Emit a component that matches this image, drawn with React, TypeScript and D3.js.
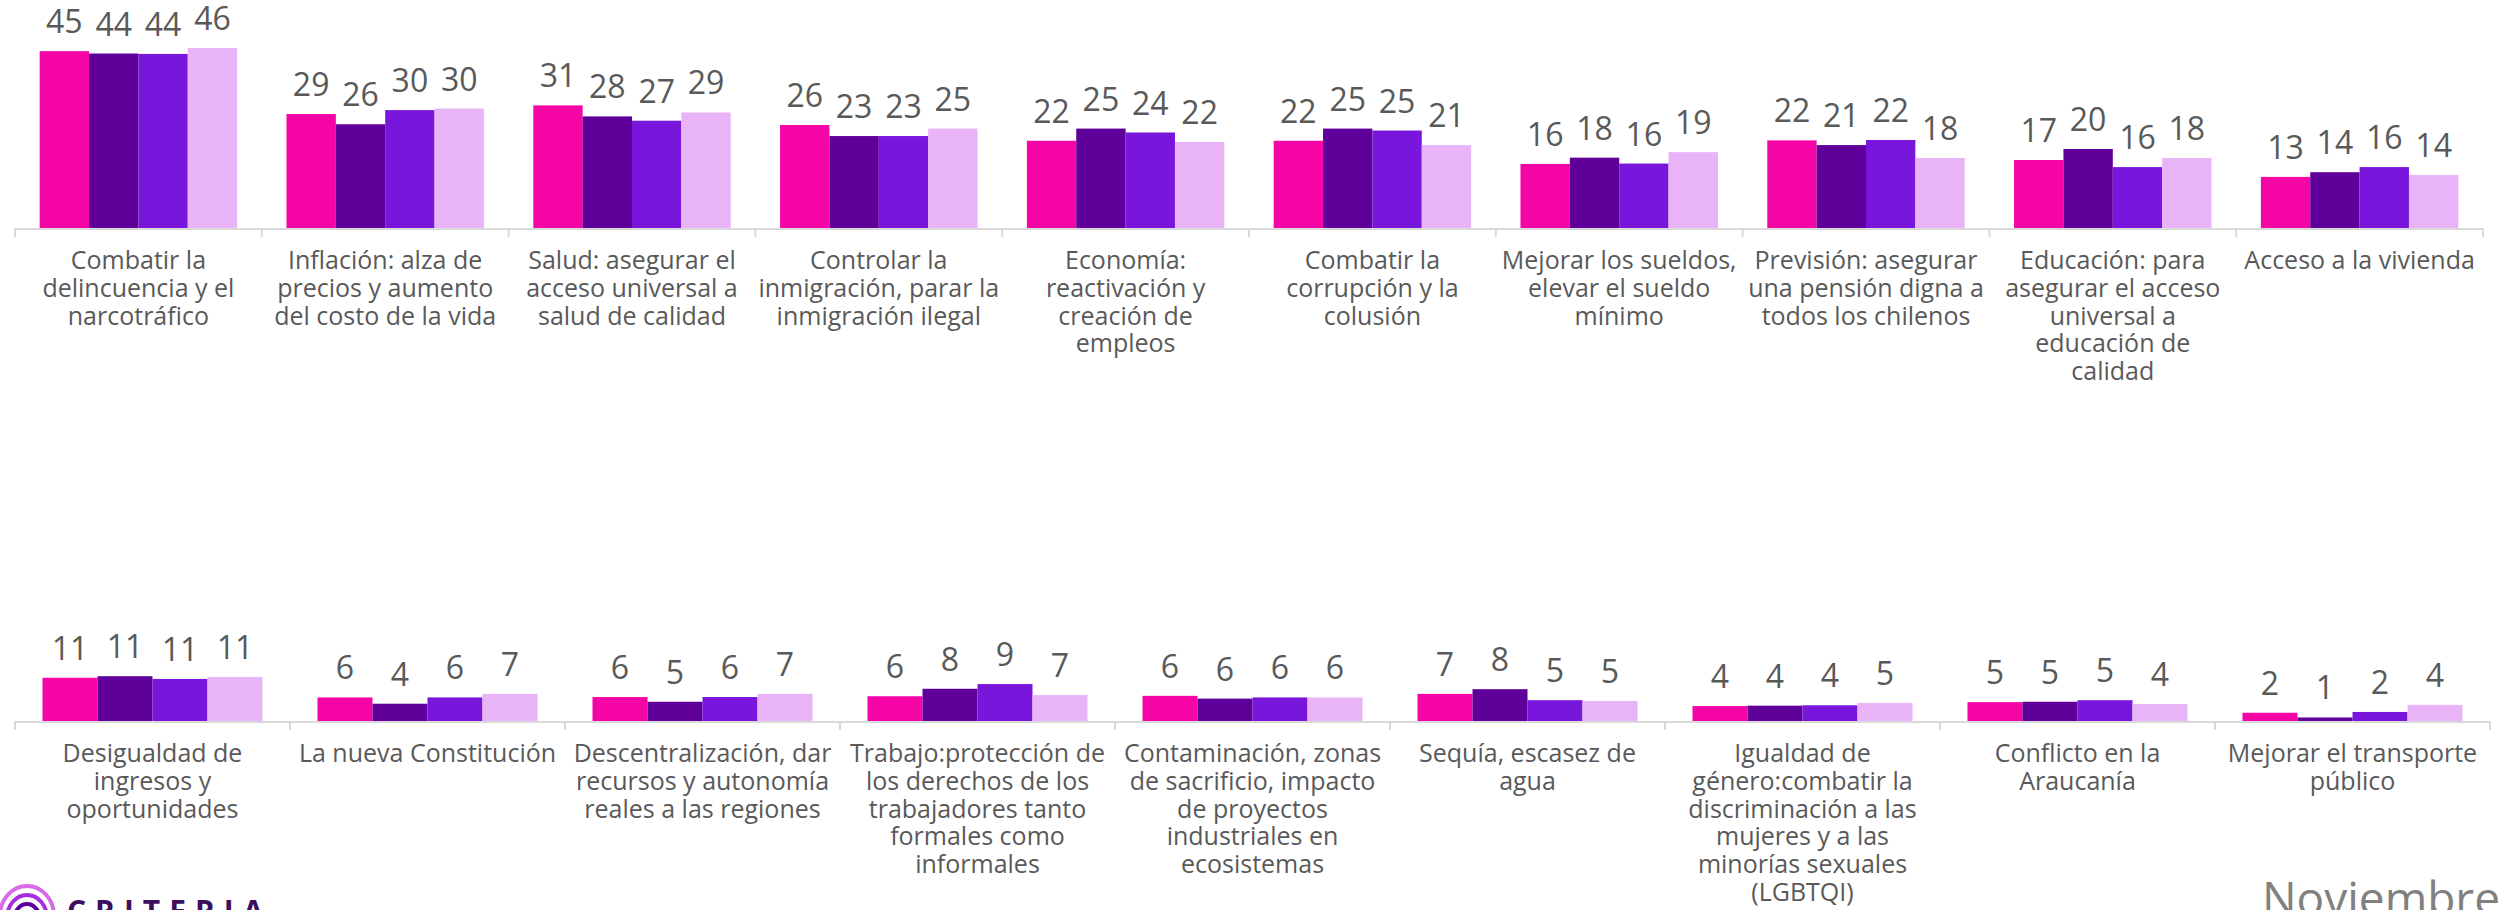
import React from "react";
import * as d3 from "d3";

// upper panel
const topCategories = [
  ["Combatir la", "delincuencia y el", "narcotráfico"],
  ["Inflación: alza de", "precios y aumento", "del costo de la vida"],
  ["Salud: asegurar el", "acceso universal a", "salud de calidad"],
  ["Controlar la", "inmigración, parar la", "inmigración ilegal"],
  ["Economía:", "reactivación y", "creación de", "empleos"],
  ["Combatir la", "corrupción y la", "colusión"],
  ["Mejorar los sueldos,", "elevar el sueldo", "mínimo"],
  ["Previsión: asegurar", "una pensión digna a", "todos los chilenos"],
  ["Educación: para", "asegurar el acceso", "universal a", "educación de", "calidad"],
  ["Acceso a la vivienda"]
];
const topWave1 = [45.0, 29.0, 31.2, 26.2, 22.2, 22.2, 16.3, 22.3, 17.3, 13.0];
const topWave2 = [44.4, 26.4, 28.4, 23.4, 25.3, 25.3, 17.9, 21.1, 20.1, 14.2];
const topWave3 = [44.3, 30.0, 27.3, 23.4, 24.3, 24.8, 16.4, 22.4, 15.5, 15.5];
const topWave4 = [45.8, 30.4, 29.4, 25.3, 21.9, 21.1, 19.3, 17.8, 17.8, 13.5];

// lower panel
const bottomCategories = [
  ["Desigualdad de", "ingresos y", "oportunidades"],
  ["La nueva Constitución"],
  ["Descentralización, dar", "recursos y autonomía", "reales a las regiones"],
  ["Trabajo:protección de", "los derechos de los", "trabajadores tanto", "formales como", "informales"],
  ["Contaminación, zonas", "de sacrificio, impacto", "de proyectos", "industriales en", "ecosistemas"],
  ["Sequía, escasez de", "agua"],
  ["Igualdad de", "género:combatir la", "discriminación a las", "mujeres y a las", "minorías sexuales", "(LGBTQI)"],
  ["Conflicto en la", "Araucanía"],
  ["Mejorar el transporte", "público"]
];
const bottomWave1 = [11.0, 6.0, 6.1, 6.3, 6.4, 6.9, 3.8, 4.8, 2.1];
const bottomWave2 = [11.4, 4.4, 4.9, 8.2, 5.7, 8.1, 3.9, 4.9, 0.9];
const bottomWave3 = [10.7, 6.0, 6.1, 9.4, 6.0, 5.3, 4.0, 5.3, 2.3];
const bottomWave4 = [11.2, 6.9, 6.9, 6.6, 6.0, 5.1, 4.6, 4.3, 4.1];

const seriesKeys = ["w1", "w2", "w3", "w4"];
const colors = ["#f505a6", "#5f009b", "#7817db", "#e8b3f7"];

const W = 2501;
const H = 910;
const FONT = "'Open Sans', sans-serif";
const TEXT = "#595959";

// same value-to-pixel scale for both panels
const hScale = d3.scaleLinear().domain([0, 50]).range([0, 196.5]);

function Panel({ cats, series, x0, x1, base, labelSize }) {
  const x = d3
    .scaleBand()
    .domain(d3.range(cats.length).map(String))
    .range([x0, x1])
    .padding(0);
  const inner = d3
    .scaleBand()
    .domain(seriesKeys)
    .range([0, x.bandwidth()])
    .paddingInner(0)
    .paddingOuter(0.5);
  const edges = d3.range(cats.length + 1).map(i => x0 + i * x.step());

  return (
    <g>
      {cats.map((lines, i) => {
        const gx = x(String(i));
        return (
          <g key={i} transform={`translate(${gx},0)`}>
            {series.map((vals, s) => {
              const v = vals[i];
              const h = hScale(v);
              const bx = inner(seriesKeys[s]);
              return (
                <g key={s}>
                  <rect x={bx} y={base - h} width={inner.bandwidth()} height={h} fill={colors[s]} />
                  <text
                    x={bx + inner.bandwidth() / 2}
                    y={base - h - 18}
                    textAnchor="middle"
                    fontFamily={FONT}
                    fontSize={32}
                    fill={TEXT}
                  >
                    {Math.round(v)}
                  </text>
                </g>
              );
            })}
            <text
              x={x.bandwidth() / 2}
              y={base + 41}
              textAnchor="middle"
              fontFamily={FONT}
              fontSize={labelSize}
              fill={TEXT}
            >
              {lines.map((l, j) => (
                <tspan key={j} x={x.bandwidth() / 2} dy={j === 0 ? 0 : 27.8}>
                  {l}
                </tspan>
              ))}
            </text>
          </g>
        );
      })}
      <line x1={x0} x2={x1} y1={base + 1} y2={base + 1} stroke="#d9d9d9" strokeWidth={2} />
      {edges.map((ex, i) => (
        <line key={i} x1={ex} x2={ex} y1={base} y2={base + 9} stroke="#d9d9d9" strokeWidth={2} />
      ))}
    </g>
  );
}

export default function App() {
  return (
    <svg
      width={W}
      height={H}
      style={{ position: "absolute", left: 0, top: 0, background: "#fff" }}
    >
      <Panel
        cats={topCategories}
        series={[topWave1, topWave2, topWave3, topWave4]}
        x0={15}
        x1={2483}
        base={228}
        labelSize={25}
      />
      <Panel
        cats={bottomCategories}
        series={[bottomWave1, bottomWave2, bottomWave3, bottomWave4]}
        x0={15}
        x1={2490}
        base={721}
        labelSize={25}
      />
      {/* logo */}
      <g>
        <ellipse cx={27} cy={916} rx={27} ry={30} fill="none" stroke="#d96be8" strokeWidth={4} />
        <ellipse cx={27} cy={918} rx={20} ry={23} fill="none" stroke="#a52fe0" strokeWidth={4} />
        <ellipse cx={27} cy={920} rx={13} ry={16} fill="none" stroke="#5f009b" strokeWidth={4} />
        <text
          x={67}
          y={922}
          fontFamily="'Open Sans', sans-serif"
          fontWeight={700}
          fontSize={30}
          letterSpacing={9}
          fill="#3d0f5e"
        >
          CRITERIA
        </text>
      </g>
      <text
        x={2500}
        y={915}
        textAnchor="end"
        fontFamily={FONT}
        fontSize={46}
        fill="#808080"
      >
        Noviembre
      </text>
    </svg>
  );
}
